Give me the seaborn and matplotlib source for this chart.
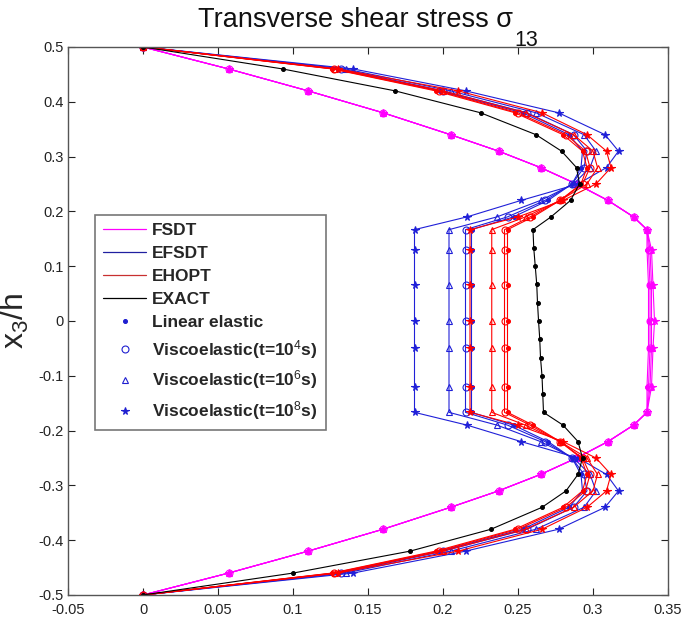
import numpy as np
import pandas as pd
import matplotlib
matplotlib.use("Agg")
import matplotlib.pyplot as plt
import seaborn as sns
from matplotlib.lines import Line2D

# ---------------- data ----------------
# thickness coordinate x3/h: top layer, core, bottom layer
Y_TOP = [0.5, 0.46, 0.42, 0.38, 0.34, 0.31, 0.28, 0.25, 0.22, 0.19, 0.1667]
Y_MID = [0.13, 0.065, 0.0, -0.05, -0.12]
Y_BOT = [-0.1667, -0.19, -0.22, -0.25, -0.28, -0.31, -0.34, -0.38, -0.42, -0.46, -0.5]

# FSDT (magenta)
FSDT_TOP = [0, 0.057, 0.11, 0.16, 0.205, 0.237, 0.265, 0.289, 0.31, 0.327, 0.336]
FSDT_BOT = [0.336, 0.327, 0.31, 0.289, 0.265, 0.237, 0.205, 0.16, 0.11, 0.057, 0]
FSDT_MID_E = [0.336, 0.337, 0.337, 0.337, 0.336]
FSDT_MID_4 = [0.337, 0.338, 0.338, 0.338, 0.337]
FSDT_MID_6 = [0.338, 0.339, 0.339, 0.339, 0.338]
FSDT_MID_8 = [0.339, 0.340, 0.341, 0.340, 0.339]

# EFSDT (blue)
EFSDT_TOP_E = [0, 0.130, 0.198, 0.253, 0.284, 0.293, 0.292, 0.286, 0.270, 0.247, 0.219]
EFSDT_MID_E = [0.219, 0.219, 0.219, 0.219, 0.219]
EFSDT_BOT_E = [0.219, 0.247, 0.270, 0.286, 0.292, 0.293, 0.284, 0.253, 0.198, 0.130, 0]
EFSDT_TOP_4 = [0, 0.132, 0.200, 0.256, 0.287, 0.296, 0.294, 0.286, 0.268, 0.243, 0.215]
EFSDT_MID_4 = [0.215, 0.215, 0.215, 0.215, 0.215]
EFSDT_BOT_4 = [0.215, 0.243, 0.268, 0.286, 0.294, 0.296, 0.287, 0.256, 0.200, 0.132, 0]
EFSDT_TOP_6 = [0, 0.135, 0.205, 0.262, 0.294, 0.302, 0.298, 0.287, 0.265, 0.236, 0.204]
EFSDT_MID_6 = [0.204, 0.204, 0.204, 0.204, 0.204]
EFSDT_BOT_6 = [0.204, 0.236, 0.265, 0.287, 0.298, 0.302, 0.294, 0.262, 0.205, 0.135, 0]
EFSDT_TOP_8 = [0, 0.140, 0.215, 0.277, 0.308, 0.317, 0.309, 0.290, 0.252, 0.216, 0.181]
EFSDT_MID_8 = [0.181, 0.181, 0.181, 0.181, 0.181]
EFSDT_BOT_8 = [0.181, 0.216, 0.252, 0.290, 0.309, 0.317, 0.308, 0.277, 0.215, 0.140, 0]

# EHOPT (red)
EHOPT_TOP_E = [0, 0.126, 0.195, 0.248, 0.280, 0.293, 0.296, 0.292, 0.278, 0.260, 0.243]
EHOPT_MID_E = [0.243, 0.243, 0.243, 0.243, 0.243]
EHOPT_BOT_E = [0.243, 0.260, 0.278, 0.292, 0.296, 0.293, 0.280, 0.248, 0.195, 0.126, 0]
EHOPT_TOP_4 = [0, 0.127, 0.197, 0.250, 0.282, 0.295, 0.298, 0.293, 0.278, 0.258, 0.241]
EHOPT_MID_4 = [0.241, 0.241, 0.241, 0.241, 0.241]
EHOPT_BOT_4 = [0.241, 0.258, 0.278, 0.293, 0.298, 0.295, 0.282, 0.250, 0.197, 0.127, 0]
EHOPT_TOP_6 = [0, 0.128, 0.200, 0.255, 0.287, 0.300, 0.303, 0.296, 0.278, 0.255, 0.2325]
EHOPT_MID_6 = [0.2325, 0.2325, 0.2325, 0.2325, 0.2325]
EHOPT_BOT_6 = [0.2325, 0.255, 0.278, 0.296, 0.303, 0.300, 0.287, 0.255, 0.200, 0.128, 0]
EHOPT_TOP_8 = [0, 0.130, 0.210, 0.266, 0.296, 0.309, 0.312, 0.302, 0.280, 0.250, 0.218]
EHOPT_MID_8 = [0.218, 0.218, 0.218, 0.218, 0.218]
EHOPT_BOT_8 = [0.218, 0.250, 0.280, 0.302, 0.312, 0.309, 0.296, 0.266, 0.210, 0.130, 0]

# EXACT (black, linear elastic only)
EXACT_Y = [0.5, 0.46, 0.42, 0.38, 0.34, 0.31, 0.28, 0.25, 0.22, 0.19,
           0.1667, 0.1333, 0.1, 0.0667, 0.0333, 0.0, -0.0333, -0.0667, -0.1, -0.1333,
           -0.1667, -0.19, -0.22, -0.25, -0.28, -0.31, -0.34, -0.38, -0.42, -0.46, -0.5]
EXACT_X = [0, 0.093, 0.168, 0.225, 0.262, 0.279, 0.289, 0.291, 0.285, 0.272,
           0.260, 0.2605, 0.2615, 0.2625, 0.263, 0.2637, 0.2645, 0.265, 0.266, 0.2665,
           0.267, 0.280, 0.290, 0.293, 0.290, 0.282, 0.266, 0.232, 0.178, 0.100, 0]

MODELS = ["FSDT", "EFSDT", "EHOPT", "EXACT"]
CASES = ["Linear elastic", "Viscoelastic(t=10$^4$s)",
         "Viscoelastic(t=10$^6$s)", "Viscoelastic(t=10$^8$s)"]
X_TICKS = ["-0.05", "0", "0.05", "0.1", "0.15", "0.2", "0.25", "0.3", "0.35"]
Y_TICKS = ["-0.5", "-0.4", "-0.3", "-0.2", "-0.1", "0", "0.1", "0.2", "0.3", "0.4", "0.5"]

# ---------------- styles ----------------
COLORS = {"FSDT": "#ff00ff", "EFSDT": "#2020d8", "EHOPT": "#ff0000", "EXACT": "#000000"}
LEGEND_COLORS = {"FSDT": "#ff00ff", "EFSDT": "#2020a0", "EHOPT": "#c83030", "EXACT": "#000000"}
MARKERS = ["o", "o", "^", "*"]
MSIZE = [2.8, 5.0, 5.0, 5.5]
FILLED = [True, False, False, True]

sns.set_theme(style="ticks")
plt.rcParams["font.family"] = ["Liberation Sans", "DejaVu Sans"]
plt.rcParams["mathtext.fontset"] = "custom"
plt.rcParams["mathtext.rm"] = "Liberation Sans"
plt.rcParams["mathtext.it"] = "Liberation Sans"
plt.rcParams["mathtext.bf"] = "Liberation Sans:bold"

fig = plt.figure(figsize=(6.81, 6.20), dpi=100)
ax = fig.add_axes([68 / 681, 1 - 595 / 620, 600 / 681, 548 / 620])

def full(top, mid, bot):
    return list(top) + list(mid) + list(bot)

Y_FULL = full(Y_TOP, Y_MID, Y_BOT)

series = [
    ("FSDT", 0, full(FSDT_TOP, FSDT_MID_E, FSDT_BOT)),
    ("FSDT", 1, full(FSDT_TOP, FSDT_MID_4, FSDT_BOT)),
    ("FSDT", 2, full(FSDT_TOP, FSDT_MID_6, FSDT_BOT)),
    ("FSDT", 3, full(FSDT_TOP, FSDT_MID_8, FSDT_BOT)),
    ("EFSDT", 0, full(EFSDT_TOP_E, EFSDT_MID_E, EFSDT_BOT_E)),
    ("EFSDT", 1, full(EFSDT_TOP_4, EFSDT_MID_4, EFSDT_BOT_4)),
    ("EFSDT", 2, full(EFSDT_TOP_6, EFSDT_MID_6, EFSDT_BOT_6)),
    ("EFSDT", 3, full(EFSDT_TOP_8, EFSDT_MID_8, EFSDT_BOT_8)),
    ("EHOPT", 0, full(EHOPT_TOP_E, EHOPT_MID_E, EHOPT_BOT_E)),
    ("EHOPT", 1, full(EHOPT_TOP_4, EHOPT_MID_4, EHOPT_BOT_4)),
    ("EHOPT", 2, full(EHOPT_TOP_6, EHOPT_MID_6, EHOPT_BOT_6)),
    ("EHOPT", 3, full(EHOPT_TOP_8, EHOPT_MID_8, EHOPT_BOT_8)),
]

for model, ci, xs in series:
    df = pd.DataFrame({"x": xs, "y": Y_FULL})
    c = COLORS[model]
    sns.lineplot(data=df, x="x", y="y", sort=False, estimator=None, ax=ax,
                 color=c, lw=0.8, marker=MARKERS[ci], markersize=MSIZE[ci],
                 markerfacecolor=c if FILLED[ci] else "none",
                 markeredgecolor=c, markeredgewidth=0.8)

df_ex = pd.DataFrame({"x": EXACT_X, "y": EXACT_Y})
sns.lineplot(data=df_ex, x="x", y="y", sort=False, estimator=None, ax=ax,
             color="black", lw=0.8, marker="o", markersize=2.8,
             markerfacecolor="black", markeredgecolor="black")

# ---------------- axes ----------------
ax.set_xlim(-0.05, 0.35)
ax.set_ylim(-0.5, 0.5)
ax.set_xticks(np.linspace(-0.05, 0.35, 9))
ax.set_xticklabels(X_TICKS)
ax.set_yticks(np.linspace(-0.5, 0.5, 11))
ax.set_yticklabels(Y_TICKS)
ax.tick_params(direction="in", top=True, right=True, length=5, width=0.8,
               labelsize=10.5, colors="#222222", pad=3)
ax.tick_params(axis="x", pad=6)
for s in ax.spines.values():
    s.set_visible(True)
    s.set_color("#555555")
    s.set_linewidth(1.0)
ax.set_xlabel("")
ax.set_ylabel("x$_3$/h", fontsize=23)
ax.yaxis.set_label_coords(-0.062, 0.5)

# ---------------- title (MATLAB-like large subscript) ----------------
t_main = fig.text(0, 1 - 27 / 620, "Transverse shear stress \u03c3", fontsize=19.5,
                  ha="left", va="baseline", color="#111111")
t_sub = fig.text(0, 1 - 46 / 620, "13", fontsize=15.5, ha="left", va="baseline",
                 color="#111111")
fig.canvas.draw()
r = fig.canvas.get_renderer()
w_main = t_main.get_window_extent(r).width
w_sub = t_sub.get_window_extent(r).width
total = w_main + 1 + w_sub
x0 = 368 - total / 2
t_main.set_x(x0 / 681)
t_sub.set_x((x0 + w_main + 1) / 681)

# ---------------- legend ----------------
handles = []
for m in MODELS:
    handles.append(Line2D([], [], color=LEGEND_COLORS[m], lw=0.9))
for ci in range(4):
    handles.append(Line2D([], [], color="#1f1fd0", lw=0, marker=MARKERS[ci],
                          markersize=MSIZE[ci],
                          markerfacecolor="#1f1fd0" if FILLED[ci] else "none",
                          markeredgecolor="#1f1fd0", markeredgewidth=0.8))
leg = ax.legend(handles, MODELS + CASES, loc="upper left",
                bbox_to_anchor=(0.045, 0.693), frameon=True, fancybox=False,
                prop={"weight": "bold", "size": 12.5}, handlelength=2.5,
                handletextpad=0.35, labelspacing=0.45, borderpad=0.45,
                borderaxespad=0)
leg.get_frame().set_edgecolor("#555555")
leg.get_frame().set_linewidth(1.2)

fig.savefig("out.png", dpi=100)
